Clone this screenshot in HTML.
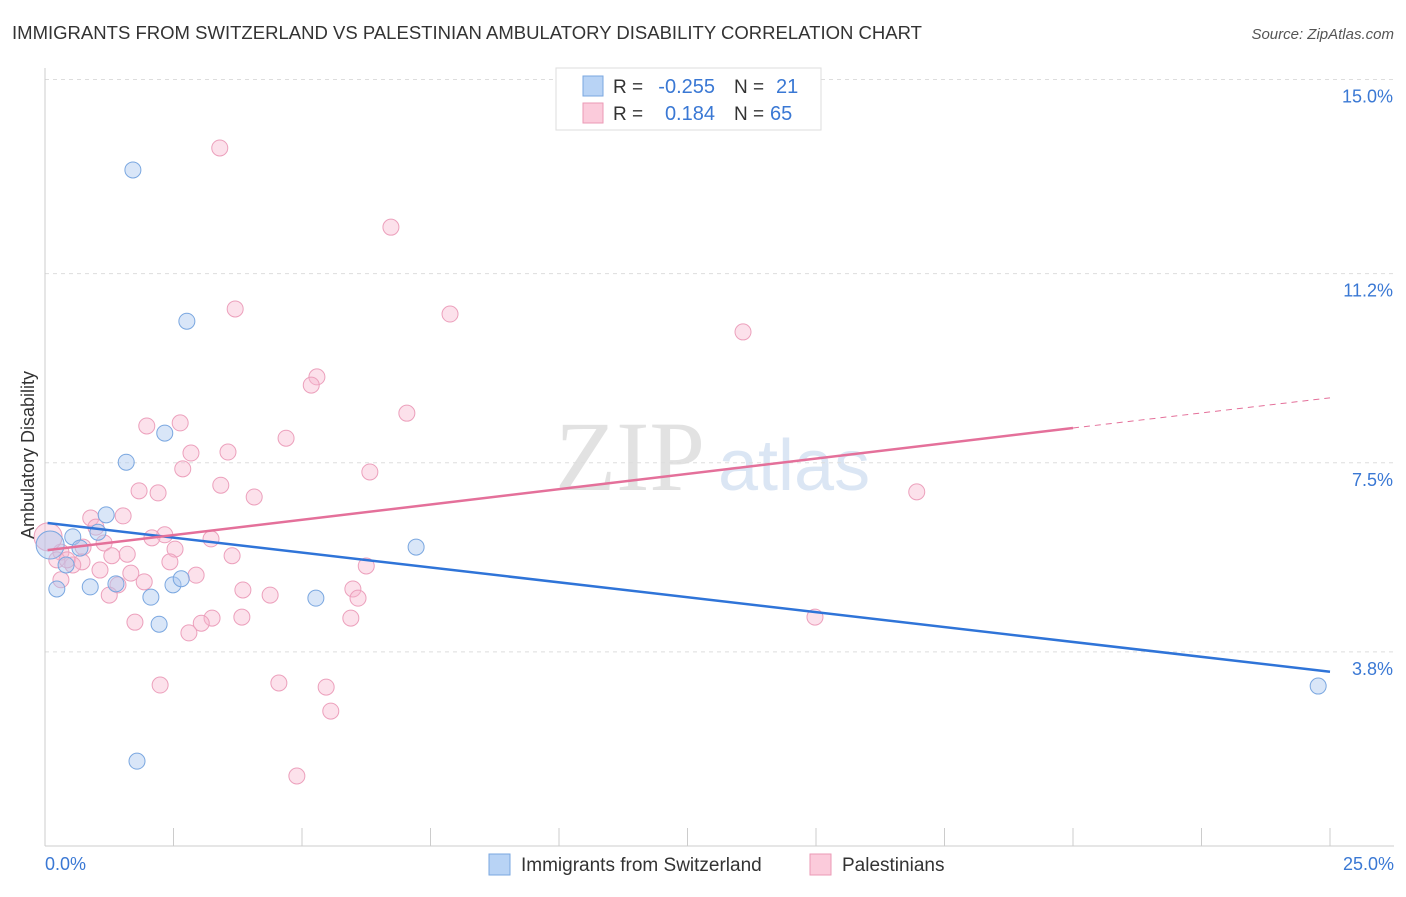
<!DOCTYPE html>
<html><head><meta charset="utf-8"><style>
body{margin:0;background:#fff;font-family:"Liberation Sans",sans-serif}
svg text{font-family:"Liberation Sans",sans-serif}
</style></head><body>
<svg id="c" width="1406" height="892">
<text x="12" y="39" font-size="18" fill="#333" textLength="910" lengthAdjust="spacingAndGlyphs">IMMIGRANTS FROM SWITZERLAND VS PALESTINIAN AMBULATORY DISABILITY CORRELATION CHART</text>
<text x="1394" y="39" font-size="15" fill="#555" font-style="italic" text-anchor="end">Source: ZipAtlas.com</text>
<text x="555" y="490" font-size="100" fill="#e2e2e2" style="font-family:'Liberation Serif',serif">ZIP</text>
<text x="718" y="490" font-size="72" fill="#dbe6f4">atlas</text>
<g id="grid"></g><g id="axes"></g><g id="marks"></g>
<text transform="translate(34,455) rotate(-90)" font-size="18" fill="#333" text-anchor="middle">Ambulatory Disability</text>
<text x="45" y="870" font-size="18" fill="#3a78d4">0.0%</text>
<text x="1394" y="870" font-size="18" fill="#3a78d4" text-anchor="end">25.0%</text>
<g>
<rect x="556" y="68" width="265" height="62" fill="#fff" stroke="#ddd"/>
<rect x="583" y="76" width="20" height="20" fill="#b8d3f5" stroke="#7aa7e0"/>
<rect x="583" y="103" width="20" height="20" fill="#fbcbdb" stroke="#eb9ab6"/>
<text x="613" y="93" font-size="19" fill="#333">R =</text>
<text x="715" y="93" font-size="20" fill="#3a78d4" text-anchor="end">-0.255</text>
<text x="734" y="93" font-size="19" fill="#333">N =</text>
<text x="776" y="93" font-size="20" fill="#3a78d4">21</text>
<text x="613" y="120" font-size="19" fill="#333">R =</text>
<text x="715" y="120" font-size="20" fill="#3a78d4" text-anchor="end">0.184</text>
<text x="734" y="120" font-size="19" fill="#333">N =</text>
<text x="770" y="120" font-size="20" fill="#3a78d4">65</text>
</g>
<g>
<rect x="489" y="854" width="21" height="21" fill="#b8d3f5" stroke="#7aa7e0"/>
<text x="521" y="871" font-size="19" fill="#333">Immigrants from Switzerland</text>
<rect x="810" y="854" width="21" height="21" fill="#fbcbdb" stroke="#eb9ab6"/>
<text x="842" y="871" font-size="19" fill="#333">Palestinians</text>
</g>
</svg>
<script>
const yTicks=[3.8,7.5,11.2,15.0];
const yTickLabels=["3.8%","7.5%","11.2%","15.0%"];
const blueX=[1.71,2.76,2.33,1.58,1.19,1.03,0.54,0.68,0.41,0.23,0.88,1.38,2.06,2.49,2.65,2.22,5.27,7.22,24.77,1.79,0.1];
const blueY=[13.23,10.27,8.08,7.51,6.48,6.14,6.05,5.83,5.50,5.03,5.07,5.13,4.87,5.11,5.23,4.34,4.85,5.85,3.13,1.66,5.89];
const pinkX=[3.40,6.73,3.70,7.88,13.58,5.29,5.18,7.04,2.63,1.98,4.69,3.56,2.84,2.68,6.32,3.42,1.83,2.20,4.07,16.96,1.52,0.89,0.99,2.33,2.08,3.23,1.15,0.74,2.53,0.31,1.60,1.30,3.64,0.23,0.72,2.43,0.54,1.07,1.67,6.25,2.94,0.31,1.93,1.42,5.99,3.85,4.38,1.25,6.09,3.25,3.83,3.04,1.75,5.95,14.98,2.80,2.24,4.55,5.47,5.56,4.90,0.06,0.43];
const pinkY=[13.66,12.11,10.51,10.41,10.06,9.18,9.02,8.47,8.28,8.22,7.98,7.71,7.69,7.38,7.32,7.06,6.95,6.91,6.83,6.93,6.46,6.42,6.24,6.09,6.03,6.01,5.93,5.85,5.81,5.75,5.71,5.68,5.68,5.60,5.56,5.56,5.50,5.40,5.34,5.48,5.30,5.21,5.17,5.11,5.03,5.01,4.91,4.91,4.85,4.46,4.48,4.36,4.38,4.46,4.48,4.17,3.15,3.19,3.11,2.64,1.37,6.05,5.60];
const blueTrend=[6.32,3.41];
const pinkTrend=[5.79,8.18,8.77];
const NS="http://www.w3.org/2000/svg";
const sx=v=>45+v*51.4, sy=v=>846-v*51.1;
function mk(p,t,a){const e=document.createElementNS(NS,t);for(const k in a)e.setAttribute(k,a[k]);document.getElementById(p).appendChild(e);return e;}
yTicks.forEach((t,i)=>{
 let l=mk('grid','line',{x1:45,x2:1394,y1:sy(t),y2:sy(t),stroke:'#ddd','stroke-dasharray':'4,4'});
 
 
 let tx=mk('grid','text',{x:1393,y:sy(t)+23,'font-size':18,fill:'#3a78d4','text-anchor':'end'});
 tx.textContent=yTickLabels[i];
 
 
});
let ax=mk('axes','line',{x1:45,x2:45,y1:68,y2:846,stroke:'#ccc'});


let bx=mk('axes','line',{x1:45,x2:1394,y1:846,y2:846,stroke:'#ccc'});


for(let i=0;i<=10;i++){let t=mk('axes','line',{x1:sx(i*2.5),x2:sx(i*2.5),y1:828,y2:846,stroke:'#ccc'});
 
 }
pinkX.forEach((x,i)=>{let r=(i==61)?14:8;let c=mk('marks','circle',{cx:sx(x),cy:sy(pinkY[i]),r:r,fill:'rgba(248,180,204,0.4)',stroke:'#eca0bc','stroke-width':1});
 
 });
blueX.forEach((x,i)=>{let r=(i==20)?14:8;let c=mk('marks','circle',{cx:sx(x),cy:sy(blueY[i]),r:r,fill:'rgba(170,200,240,0.45)',stroke:'#7aa7e0','stroke-width':1});
 
 });
let bt=mk('marks','line',{x1:sx(0.05),y1:sy(blueTrend[0]),x2:sx(25),y2:sy(blueTrend[1]),stroke:'#2f74d8','stroke-width':2.5});


let pt=mk('marks','line',{x1:sx(0.05),y1:sy(pinkTrend[0]),x2:sx(20),y2:sy(pinkTrend[1]),stroke:'#e4709a','stroke-width':2.5});


let pd=mk('marks','line',{x1:sx(20),y1:sy(pinkTrend[1]),x2:sx(25),y2:sy(pinkTrend[2]),stroke:'#e4709a','stroke-width':1,'stroke-dasharray':'6,5'});


</script>
</body></html>
